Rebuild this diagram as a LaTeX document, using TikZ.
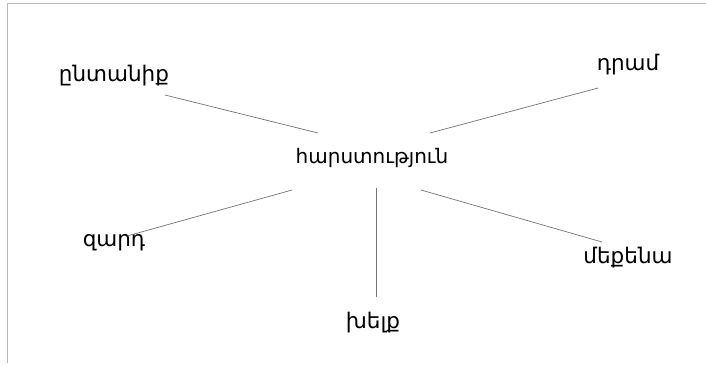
\documentclass[tikz,border=0pt]{standalone}
\usepackage{fontspec}
\newfontfamily\armfont{DejaVu Sans}
\begin{document}
\begin{tikzpicture}[x=1pt,y=-1pt,
  word/.style={font=\armfont\fontsize{21.5}{25}\selectfont, inner sep=0pt, anchor=center},
  hubword/.style={font=\armfont\fontsize{20}{24}\selectfont, inner sep=0pt, anchor=center},
  link/.style={draw=black!55, line width=0.7pt},
  frame/.style={draw=black!28, line width=1pt}]
\useasboundingbox (0,0) rectangle (706,365);
\fill[white] (0,0) rectangle (706,365);
\coordinate (f1) at (706,3.5);
\coordinate (f2) at (7,3.5);
\coordinate (f3) at (7,363);
\draw[frame] (f1) -- (f2) -- (f3);
\node[hubword] (c) at (372,158) {հարստություն};
\node[word] (a) at (114,76) {ընտանիք};
\node[word] (b) at (628,65) {դրամ};
\node[word] (d) at (114,243) {զարդ};
\node[word] (e) at (628,258) {մեքենա};
\node[word] (g) at (373,323) {խելք};
\coordinate (a1) at (165,95); \coordinate (a2) at (318,133);
\coordinate (b1) at (598,88); \coordinate (b2) at (430,133);
\coordinate (d1) at (127,236); \coordinate (d2) at (292,190);
\coordinate (e1) at (602,242); \coordinate (e2) at (421,190);
\coordinate (g1) at (376,297); \coordinate (g2) at (376,188);
\draw[link] (a1) -- (a2);
\draw[link] (b1) -- (b2);
\draw[link] (d1) -- (d2);
\draw[link] (e1) -- (e2);
\draw[link] (g1) -- (g2);
\end{tikzpicture}
\end{document}
